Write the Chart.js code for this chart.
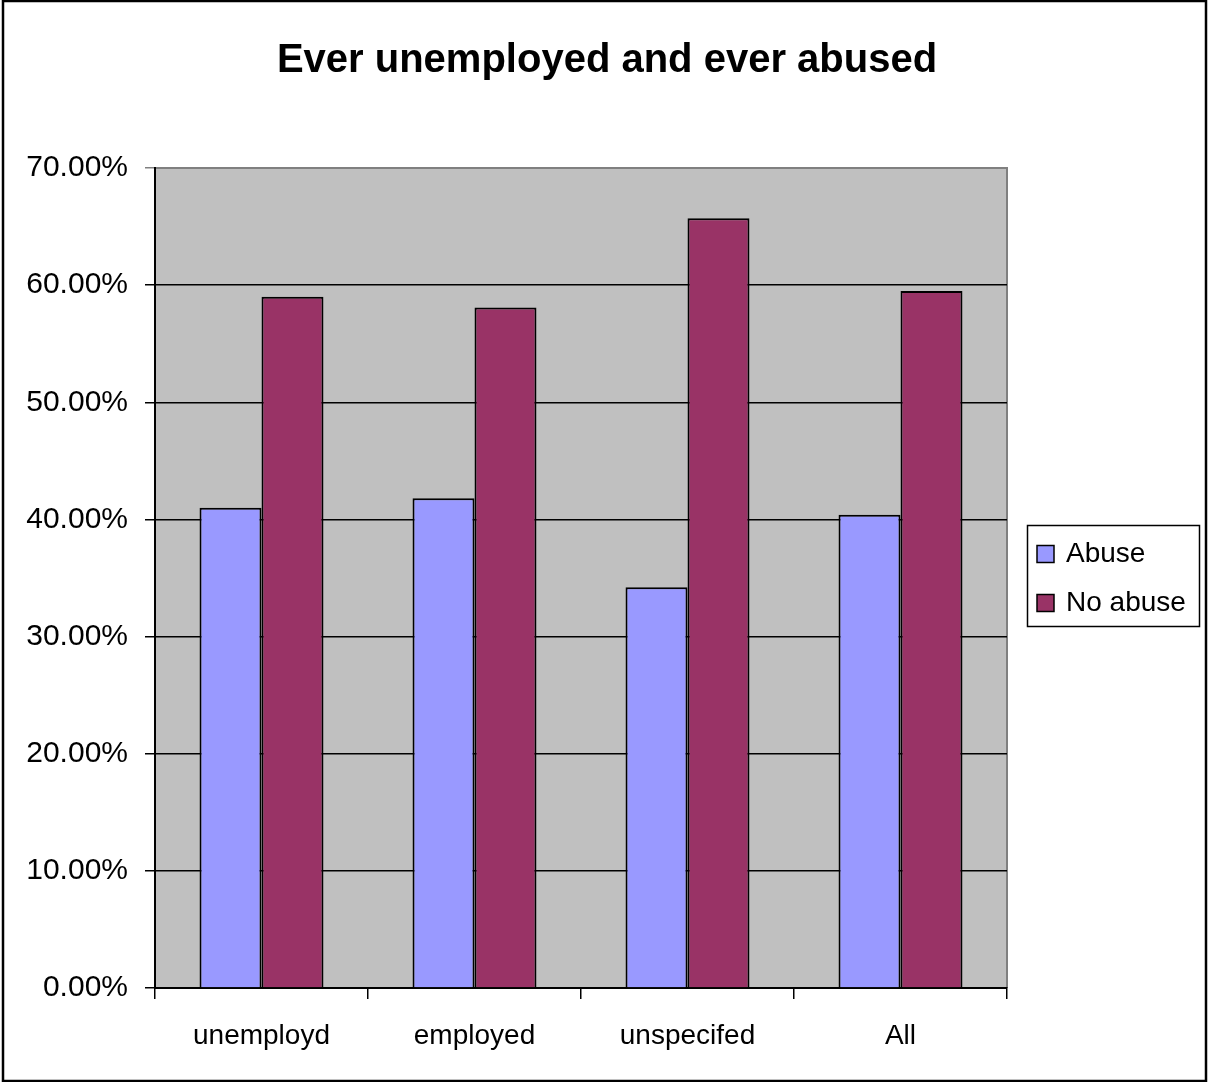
<!DOCTYPE html>
<html>
<head>
<meta charset="utf-8">
<title>Ever unemployed and ever abused</title>
<script src="https://cdn.jsdelivr.net/npm/chart.js@4/dist/chart.umd.min.js"></script>
<style>
    html, body { margin: 0; padding: 0; background: #ffffff; }
    canvas { display: block; }
</style>
</head>
<body>
<canvas id="grafico" width="1208" height="1082"></canvas>
<script>
'use strict';

const titulo = 'Ever unemployed and ever abused';
const categorias = ['unemployd', 'employed', 'unspecifed', 'All'];
const abuso = [0.410, 0.418, 0.342, 0.404];
const sinAbuso = [0.590, 0.581, 0.657, 0.595];
const etiquetasSeries = ['Abuse', 'No abuse'];

const FUENTE = "'Liberation Sans', Arial, sans-serif";

// Fondo gris del área del gráfico, marco exterior y título centrado en todo el lienzo
const fondoPlugin = {
    id: 'fondo',
    beforeDraw(chart) {
        const { ctx, chartArea: a } = chart;
        ctx.save();
        ctx.fillStyle = '#ffffff';
        ctx.fillRect(0, 0, chart.width, chart.height);
        ctx.fillStyle = '#c0c0c0';
        ctx.fillRect(a.left, a.top, a.right - a.left, a.bottom - a.top);
        ctx.strokeStyle = '#808080';
        ctx.lineWidth = 2;
        ctx.beginPath();
        ctx.moveTo(a.left, a.top);
        ctx.lineTo(a.right, a.top);
        ctx.lineTo(a.right, a.bottom);
        ctx.stroke();
        ctx.strokeStyle = '#000000';
        ctx.lineWidth = 2.5;
        ctx.strokeRect(3, 1, chart.width - 5, chart.height - 2);

        ctx.fillStyle = '#000000';
        ctx.font = 'bold 40px ' + FUENTE;
        ctx.textAlign = 'center';
        ctx.textBaseline = 'middle';
        ctx.fillText(titulo, 607, 61);
        ctx.restore();
    }
};

// Leyenda con marco a la derecha
const leyendaPlugin = {
    id: 'leyenda',
    afterDraw(chart) {
        const { ctx } = chart;
        const x = 1027, y = 525, w = 172, h = 101;
        ctx.save();
        ctx.strokeStyle = '#000000';
        ctx.lineWidth = 1.5;
        ctx.strokeRect(x + 0.5, y + 0.5, w, h);
        ctx.font = '28px ' + FUENTE;
        ctx.textBaseline = 'middle';
        ctx.textAlign = 'left';
        chart.data.datasets.forEach((ds, i) => {
            const cy = y + 29 + i * 49;
            ctx.fillStyle = ds.backgroundColor;
            ctx.fillRect(x + 10, cy - 8.5, 17, 17);
            ctx.strokeStyle = '#000000';
            ctx.lineWidth = 1.5;
            ctx.strokeRect(x + 10, cy - 8.5, 17, 17);
            ctx.fillStyle = '#000000';
            ctx.fillText(ds.label, x + 39, cy);
        });
        ctx.restore();
    }
};

new Chart(document.getElementById('grafico').getContext('2d'), {
    type: 'bar',
    data: {
        labels: categorias,
        datasets: [
            {
                label: etiquetasSeries[0],
                data: abuso,
                backgroundColor: '#9999ff',
                borderColor: '#000000',
                borderWidth: 2,
                borderSkipped: 'bottom'
            },
            {
                label: etiquetasSeries[1],
                data: sinAbuso,
                backgroundColor: '#993366',
                borderColor: '#000000',
                borderWidth: 2,
                borderSkipped: 'bottom'
            }
        ]
    },
    options: {
        responsive: false,
        animation: false,
        devicePixelRatio: 1,
        layout: { padding: { left: 0, right: 201, top: 168, bottom: 0 } },
        datasets: { bar: { categoryPercentage: 0.582, barPercentage: 1 } },
        plugins: {
            legend: { display: false },
            tooltip: { enabled: false },
            title: { display: false }
        },
        scales: {
            x: {
                afterFit(scale) { scale.height = 94; },
                grid: {
                    display: true,
                    drawOnChartArea: false,
                    offset: true,
                    color: '#000000',
                    lineWidth: 1.5,
                    tickLength: 11
                },
                border: { color: '#000000', width: 2 },
                ticks: {
                    color: '#000000',
                    padding: 20,
                    font: { family: FUENTE, size: 28 }
                }
            },
            y: {
                min: 0,
                max: 0.7,
                afterFit(scale) { scale.width = 155; },
                grid: {
                    color: ctx => (ctx.tick && ctx.tick.value >= 0.7 ? '#808080' : '#000000'),
                    lineWidth: 1.5,
                    tickLength: 10
                },
                border: { color: '#000000', width: 2 },
                ticks: {
                    stepSize: 0.1,
                    color: '#000000',
                    padding: 17,
                    font: { family: FUENTE, size: 30 },
                    callback: v => (v * 100).toFixed(2) + '%'
                }
            }
        }
    },
    plugins: [fondoPlugin, leyendaPlugin]
});
</script>
</body>
</html>
